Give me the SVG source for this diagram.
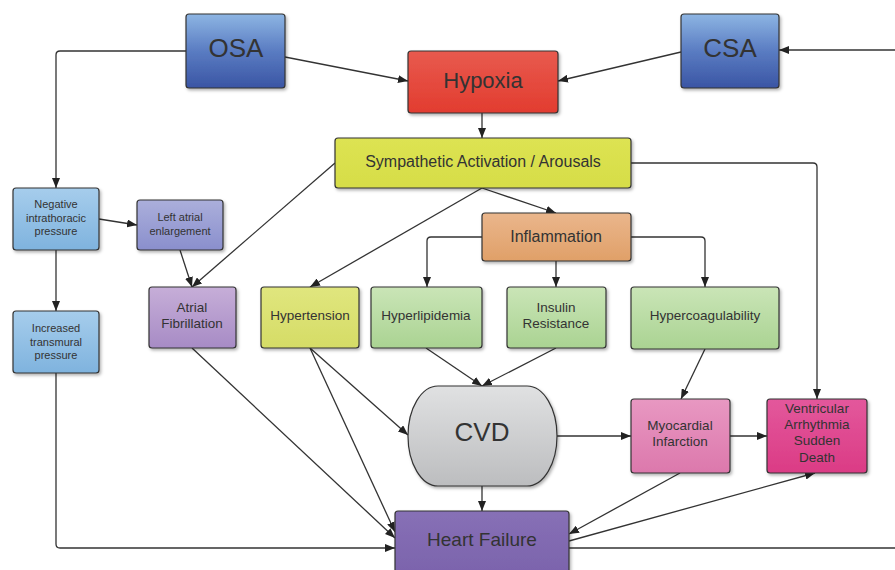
<svg xmlns="http://www.w3.org/2000/svg" width="895" height="570" viewBox="0 0 895 570">
<style>
.box{stroke:#333;stroke-width:1.2;filter:url(#sh)}
.t{font-family:"Liberation Sans",Arial,sans-serif;fill:#333;text-anchor:middle}
.c{fill:none;stroke:#333;stroke-width:1.3}
.a{marker-end:url(#ar)}
</style>
<defs>
<filter id="sh" x="-10%" y="-10%" width="130%" height="130%"><feDropShadow dx="1.5" dy="2" stdDeviation="1.5" flood-color="#000" flood-opacity="0.3"/></filter>
<marker id="ar" markerUnits="userSpaceOnUse" markerWidth="11" markerHeight="8" refX="10" refY="4" orient="auto"><path d="M0,0 L10,4 L0,8 z" fill="#222"/></marker>
<linearGradient id="gBlue" x1="0" y1="0" x2="0" y2="1"><stop offset="0" stop-color="#8db5e3"/><stop offset="0.5" stop-color="#5a7cc2"/><stop offset="1" stop-color="#3a55a4"/></linearGradient>
<linearGradient id="gRed" x1="0" y1="0" x2="0" y2="1"><stop offset="0" stop-color="#e85a4e"/><stop offset="1" stop-color="#e23c2f"/></linearGradient>
<linearGradient id="gYel" x1="0" y1="0" x2="0" y2="1"><stop offset="0" stop-color="#dde352"/><stop offset="1" stop-color="#d6dd48"/></linearGradient>
<linearGradient id="gOr" x1="0" y1="0" x2="0" y2="1"><stop offset="0" stop-color="#eab68c"/><stop offset="1" stop-color="#e0a068"/></linearGradient>
<linearGradient id="gLb" x1="0" y1="0" x2="0" y2="1"><stop offset="0" stop-color="#a6cdec"/><stop offset="1" stop-color="#7fb3de"/></linearGradient>
<linearGradient id="gLa" x1="0" y1="0" x2="0" y2="1"><stop offset="0" stop-color="#abafdb"/><stop offset="1" stop-color="#8a8fcd"/></linearGradient>
<linearGradient id="gAf" x1="0" y1="0" x2="0" y2="1"><stop offset="0" stop-color="#c6aed8"/><stop offset="1" stop-color="#a78bc5"/></linearGradient>
<linearGradient id="gHt" x1="0" y1="0" x2="0" y2="1"><stop offset="0" stop-color="#e0e67e"/><stop offset="1" stop-color="#d5dc66"/></linearGradient>
<linearGradient id="gGr" x1="0" y1="0" x2="0" y2="1"><stop offset="0" stop-color="#cae5b7"/><stop offset="1" stop-color="#aad392"/></linearGradient>
<linearGradient id="gCvd" x1="0" y1="0" x2="0" y2="1"><stop offset="0" stop-color="#e0e1e2"/><stop offset="1" stop-color="#bcbdbf"/></linearGradient>
<linearGradient id="gMi" x1="0" y1="0" x2="0" y2="1"><stop offset="0" stop-color="#e898c2"/><stop offset="1" stop-color="#dc78ac"/></linearGradient>
<linearGradient id="gVa" x1="0" y1="0" x2="0" y2="1"><stop offset="0" stop-color="#e3589c"/><stop offset="1" stop-color="#db3b85"/></linearGradient>
<linearGradient id="gHf" x1="0" y1="0" x2="0" y2="1"><stop offset="0" stop-color="#8770b6"/><stop offset="1" stop-color="#7a62ab"/></linearGradient>
</defs>
<rect width="895" height="570" fill="#fff"/>
<g id="connectors">
<path class="c a" d="M186,51 H60 Q56,51 56,55 V188"/>
<path class="c a" d="M285,57 L408,81"/>
<path class="c a" d="M681,52 L558,81"/>
<path class="c a" d="M895,50 H779"/>
<path class="c a" d="M482,113 V138"/>
<path class="c a" d="M631,163 H813 Q817,163 817,167 V399"/>
<path class="c a" d="M335,163 L192,287"/>
<path class="c a" d="M482,188 L556,213"/>
<path class="c a" d="M482,188 L310,287"/>
<path class="c a" d="M482,237 H431 Q427,237 427,241 V287"/>
<path class="c a" d="M556,261 V287"/>
<path class="c a" d="M631,237 H701 Q705,237 705,241 V287"/>
<path class="c a" d="M99,219 L137,225"/>
<path class="c a" d="M180,250 L192,287"/>
<path class="c a" d="M56,250 V311"/>
<path class="c a" d="M56,373 V544 Q56,548 60,548 H395"/>
<path class="c a" d="M192,348 L395,538"/>
<path class="c a" d="M310,348 L408,435"/>
<path class="c a" d="M310,348 L395,532"/>
<path class="c a" d="M426,348 L482,386"/>
<path class="c a" d="M556,348 L482,386"/>
<path class="c a" d="M482,486 V511"/>
<path class="c a" d="M557,436 H631"/>
<path class="c a" d="M730,436 H767"/>
<path class="c a" d="M705,349 L681,399"/>
<path class="c a" d="M680,473 L569,534"/>
<path class="c a" d="M569,541 L815,473"/>
<path class="c" d="M569,548 H895"/>
</g>
<g id="osa"><rect class="box" x="186" y="14" width="99" height="74" rx="3" fill="url(#gBlue)"/><text class="t" x="236" y="57" font-size="26">OSA</text></g>
<g id="csa"><rect class="box" x="681" y="14" width="98" height="74" rx="3" fill="url(#gBlue)"/><text class="t" x="730" y="57" font-size="26">CSA</text></g>
<g id="hypoxia"><rect class="box" x="408" y="51" width="150" height="62" rx="3" fill="url(#gRed)"/><text class="t" x="483" y="88" font-size="22">Hypoxia</text></g>
<g id="sympathetic"><rect class="box" x="335" y="138" width="296" height="50" rx="3" fill="url(#gYel)"/><text class="t" x="483" y="167" font-size="16">Sympathetic Activation / Arousals</text></g>
<g id="inflammation"><rect class="box" x="482" y="213" width="149" height="48" rx="3" fill="url(#gOr)"/><text class="t" x="556" y="242" font-size="16">Inflammation</text></g>
<g id="negative"><rect class="box" x="13" y="188" width="86" height="62" rx="3" fill="url(#gLb)"/><text class="t" font-size="11"><tspan x="56" y="208">Negative</tspan><tspan x="56" y="221.5">intrathoracic</tspan><tspan x="56" y="235">pressure</tspan></text></g>
<g id="leftatrial"><rect class="box" x="137" y="200" width="86" height="50" rx="3" fill="url(#gLa)"/><text class="t" font-size="11"><tspan x="180" y="221">Left atrial</tspan><tspan x="180" y="234.5">enlargement</tspan></text></g>
<g id="increased"><rect class="box" x="13" y="311" width="86" height="62" rx="3" fill="url(#gLb)"/><text class="t" font-size="11"><tspan x="56" y="332">Increased</tspan><tspan x="56" y="345.5">transmural</tspan><tspan x="56" y="359">pressure</tspan></text></g>
<g id="atrialfib"><rect class="box" x="149" y="287" width="87" height="61" rx="3" fill="url(#gAf)"/><text class="t" font-size="13.5"><tspan x="192" y="312">Atrial</tspan><tspan x="192" y="328">Fibrillation</tspan></text></g>
<g id="hypertension"><rect class="box" x="261" y="287" width="98" height="61" rx="3" fill="url(#gHt)"/><text class="t" x="310" y="320" font-size="13.5">Hypertension</text></g>
<g id="hyperlipidemia"><rect class="box" x="371" y="287" width="111" height="61" rx="3" fill="url(#gGr)"/><text class="t" x="426" y="320" font-size="13.5">Hyperlipidemia</text></g>
<g id="insulin"><rect class="box" x="507" y="287" width="99" height="61" rx="3" fill="url(#gGr)"/><text class="t" font-size="13.5"><tspan x="556" y="312">Insulin</tspan><tspan x="556" y="328">Resistance</tspan></text></g>
<g id="hypercoag"><rect class="box" x="631" y="287" width="148" height="62" rx="3" fill="url(#gGr)"/><text class="t" x="705" y="320" font-size="13.5">Hypercoagulability</text></g>
<g id="cvd"><rect class="box" x="408" y="386" width="149" height="100" rx="30" ry="50" fill="url(#gCvd)"/><text class="t" x="482" y="441" font-size="26">CVD</text></g>
<g id="mi"><rect class="box" x="631" y="399" width="99" height="74" rx="3" fill="url(#gMi)"/><text class="t" font-size="13.5"><tspan x="680" y="430">Myocardial</tspan><tspan x="680" y="446">Infarction</tspan></text></g>
<g id="va"><rect class="box" x="767" y="399" width="100" height="74" rx="3" fill="url(#gVa)"/><text class="t" font-size="13.5"><tspan x="817" y="413">Ventricular</tspan><tspan x="817" y="429">Arrhythmia</tspan><tspan x="817" y="445">Sudden</tspan><tspan x="817" y="462">Death</tspan></text></g>
<g id="heartfailure"><rect class="box" x="395" y="511" width="174" height="70" rx="3" fill="url(#gHf)"/><text class="t" x="482" y="546" font-size="19">Heart Failure</text></g>
</svg>
